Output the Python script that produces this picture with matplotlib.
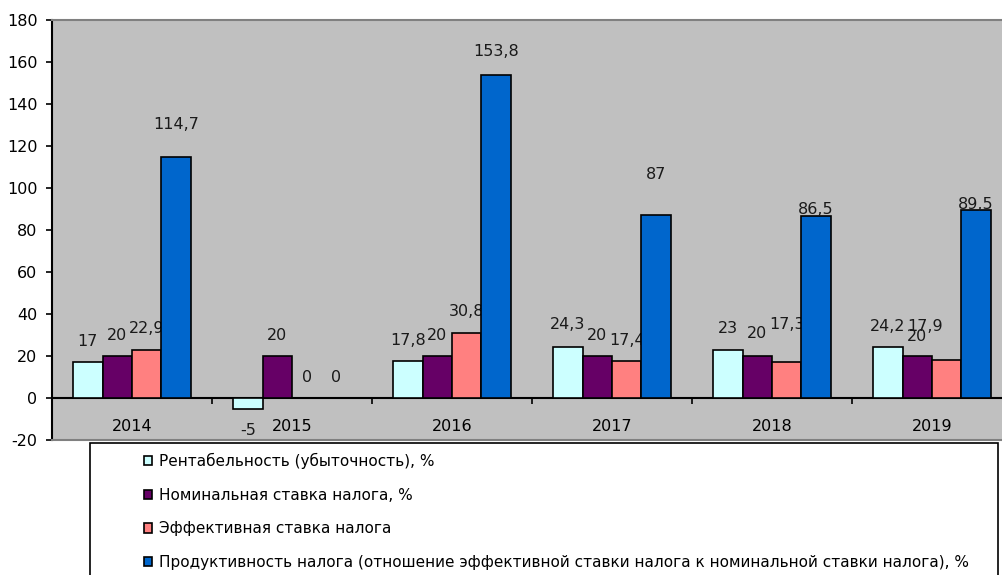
import numpy as np
import matplotlib
matplotlib.use("Agg")
import matplotlib.pyplot as plt
from matplotlib.patches import Rectangle

plt.rcParams["font.family"] = "DejaVu Sans"
plt.rcParams["axes.unicode_minus"] = False

years = ["2014", "2015", "2016", "2017", "2018", "2019"]
series_names = [
    "Рентабельность (убыточность), %",
    "Номинальная ставка налога, %",
    "Эффективная ставка налога",
    "Продуктивность налога (отношение эффективной ставки налога к номинальной ставки налога), %",
]
profitability = [17, -5, 17.8, 24.3, 23, 24.2]
nominal_rate = [20, 20, 20, 20, 20, 20]
effective_rate = [22.9, 0, 30.8, 17.4, 17.3, 17.9]
productivity = [114.7, 0, 153.8, 87, 86.5, 89.5]

colors = ["#CCFFFF", "#660066", "#FF8080", "#0066CC"]

# label placement (value units above/below the bar top, category units sideways)
label_dy = [
    [9.7, -10.7, 9.8, 10.5, 10, 9.8],
    [10, 10, 10, 10, 10.5, 9.5],
    [10.1, 10, 10.2, 10.2, 17.7, 16.1],
    [15.7, 10, 11.2, 19.5, 3.3, 2.5],
]
label_dx = [
    [0, 0, 0, 0, 0, 0],
    [0, 0, 0, 0, 0, 0],
    [0, 0, 0, 0, 0, -0.137],
    [0, 0, 0, 0, 0, 0],
]

W, H = 1002, 575
fig = plt.figure(figsize=(W / 100, H / 100), dpi=100)
ax = fig.add_axes([52 / W, (H - 440) / H, (1012 - 52) / W, (440 - 20) / H])
ax.set_facecolor("#C0C0C0")

x = np.arange(len(years))
width = 0.184
values = [profitability, nominal_rate, effective_rate, productivity]

def fmt(v):
    return ("%g" % v).replace(".", ",")

bars = []
for j, vals in enumerate(values):
    pos = x + (j - 1.5) * width
    b = ax.bar(pos, vals, width, color=colors[j], edgecolor="black",
               linewidth=1.2, zorder=2 + 2 * j, label=series_names[j])
    bars.append(b)
    for i, v in enumerate(vals):
        ax.text(pos[i] + label_dx[j][i], v + label_dy[j][i], fmt(v),
                ha="center", va="center", fontsize=11.5, color="#1a1a1a",
                zorder=3 + 2 * j)

ax.set_xlim(-0.5, 5.5)
ax.set_ylim(-20, 180)
ax.set_yticks(np.arange(-20, 181, 20))
ax.tick_params(axis="y", direction="out", length=4.5, width=1.2, pad=6,
               labelsize=11.5)

# plot area border: dark grey top/bottom, black left axis
for s in ["top", "bottom"]:
    ax.spines[s].set_color("#808080")
    ax.spines[s].set_linewidth(1.5)
ax.spines["right"].set_visible(False)
ax.spines["left"].set_linewidth(1.5)
ax.set_xticks([])

# category axis sits on the zero line
xa = ax.secondary_xaxis(20 / 200)
xa.spines["bottom"].set_linewidth(1.5)
xa.set_xticks(np.arange(0.5, 5.5, 1))
xa.set_xticklabels([])
xa.set_xticks(x, minor=True)
xa.set_xticklabels(years, minor=True)
xa.tick_params(which="major", direction="out", length=4.5, width=1.2)
xa.tick_params(which="minor", length=0, pad=15, labelsize=11.5)

# legend box
fig.patches.append(Rectangle((90 / W, -0.05), (998 - 90) / W,
                             (H - 443) / H + 0.05, transform=fig.transFigure,
                             facecolor="white", edgecolor="black",
                             linewidth=1.2, zorder=1))
fig.legend(handles=bars, labels=series_names, loc="upper left",
           bbox_to_anchor=(144 / W, (H - 453) / H), frameon=False,
           fontsize=11, handlelength=0.55, handleheight=0.55,
           handletextpad=0.45, labelspacing=1.22, borderpad=0, borderaxespad=0)

fig.savefig("out.png", dpi=100)
